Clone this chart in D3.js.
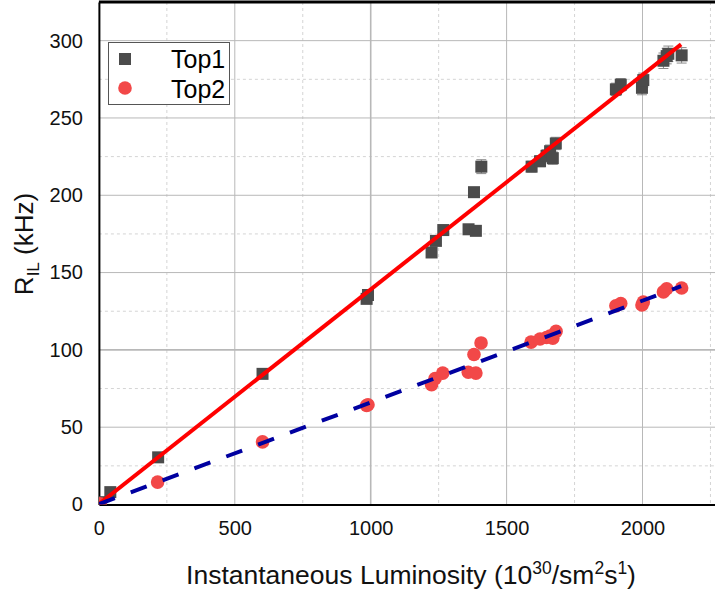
<!DOCTYPE html>
<html><head><meta charset="utf-8">
<script src="https://cdn.jsdelivr.net/npm/d3@7"></script>
<style>
body{margin:0;background:#fff;}
svg{display:block;font-family:"Liberation Sans",Arial,sans-serif;}
</style></head>
<body>
<svg id="c" width="715" height="592"></svg>
<script>
// ---- data ----
const top1X   = [8, 42, 218, 602, 985, 990, 1224, 1240, 1267, 1360, 1387, 1380, 1407, 1592, 1623, 1647, 1660, 1670, 1681, 1902, 1920, 1998, 2003, 2077, 2089, 2095, 2144];
const top1Y   = [1.5, 8, 30.5, 84.5, 133, 135.5, 163, 170.5, 177.5, 178, 177, 202, 218.5, 218.5, 222, 225.5, 228.5, 224, 233.5, 268.5, 271.5, 269.5, 274.5, 287, 290, 291.5, 290.5];
const top1Err = [0.5, 0.5, 1, 1.5, 2.5, 2.5, 3, 3, 3, 3, 3, 3, 4.5, 3.5, 3.5, 4, 4, 4, 4, 4, 4, 4.5, 4.5, 5, 5, 5, 5];
const top2X   = [5, 216, 602, 985, 990, 1224, 1237, 1265, 1359, 1387, 1380, 1406, 1590, 1623, 1647, 1660, 1670, 1682, 1902, 1920, 1998, 2003, 2077, 2089, 2144];
const top2Y   = [0.5, 14.5, 40.5, 64, 64.5, 77.5, 81.5, 85, 85.5, 85, 97, 104.5, 105, 107, 108, 109, 107.5, 112, 128.5, 130, 129, 131, 137.5, 139.5, 140];
const fitX    = [0, 2142];
const fit1Y   = [0.3, 297.6];
const fit2Y   = [0.2, 141.2];
const xTicks  = [0, 500, 1000, 1500, 2000];
const yTicks  = [0, 50, 100, 150, 200, 250, 300];
const seriesNames = ["Top1", "Top2"];

// ---- layout ----
const svg = d3.select("#c");
const L = 98.9, B = 504.5, T = 2;
const x = d3.scaleLinear().domain([0, 2300]).range([L, L + 2300 * 0.2718]);
const y = d3.scaleLinear().domain([0, 325]).range([B, T]);
const R = x(2300);

svg.append("defs").append("clipPath").attr("id","clip")
  .append("rect").attr("x", L).attr("y", T).attr("width", R - L).attr("height", B - T);

// grid
const g = svg.append("g");
d3.range(250, 2300, 500).forEach(v => g.append("line")
  .attr("x1", x(v)).attr("x2", x(v)).attr("y1", T).attr("y2", B)
  .attr("stroke", "#d4d4d4").attr("stroke-dasharray", "3,3"));
d3.range(25, 325, 50).forEach(v => g.append("line")
  .attr("x1", L).attr("x2", R).attr("y1", y(v)).attr("y2", y(v))
  .attr("stroke", "#d4d4d4").attr("stroke-dasharray", "3,3"));
[500, 1000, 1500, 2000].forEach(v => g.append("line")
  .attr("x1", x(v)).attr("x2", x(v)).attr("y1", T).attr("y2", B)
  .attr("stroke", "#b8b8b8").attr("stroke-width", v === 1000 ? 1.6 : 1));
[50, 100, 150, 200, 250, 300].forEach(v => g.append("line")
  .attr("x1", L).attr("x2", R).attr("y1", y(v)).attr("y2", y(v))
  .attr("stroke", "#b8b8b8").attr("stroke-width", v === 100 ? 1.6 : 1));

// axes
const xAxis = svg.append("g").attr("transform", `translate(0,${B})`)
  .call(d3.axisBottom(x).tickValues(xTicks).tickSize(0).tickPadding(16).tickFormat(d3.format("d")));
xAxis.select(".domain").attr("stroke", "#000").attr("stroke-width", 2);
xAxis.selectAll("text").attr("font-size", 20).attr("fill", "#111").attr("font-family", "Liberation Sans, Arial, sans-serif");
const yAxis = svg.append("g").attr("transform", `translate(${L},0)`)
  .call(d3.axisLeft(y).tickValues(yTicks).tickSize(0).tickPadding(16).tickFormat(d3.format("d")));
yAxis.select(".domain").attr("stroke", "#000").attr("stroke-width", 2);
yAxis.selectAll("text").attr("font-size", 20).attr("fill", "#111").attr("font-family", "Liberation Sans, Arial, sans-serif");
svg.append("line").attr("x1", L).attr("x2", 715).attr("y1", 2).attr("y2", 2)
  .attr("stroke", "#000").attr("stroke-width", 3);

// data
const plot = svg.append("g").attr("clip-path", "url(#clip)");
const t1 = top1X.map((v, i) => ({x: v, y: top1Y[i], e: top1Err[i]}));
const t2 = top2X.map((v, i) => ({x: v, y: top2Y[i]}));
const eb = plot.append("g").attr("stroke", "#8a8a8a").attr("stroke-width", 1);
t1.forEach(d => {
  const cx = x(d.x), y1 = y(d.y + d.e), y2 = y(d.y - d.e);
  eb.append("line").attr("x1", cx).attr("x2", cx).attr("y1", y1).attr("y2", y2);
  eb.append("line").attr("x1", cx - 5).attr("x2", cx + 5).attr("y1", y1).attr("y2", y1);
  eb.append("line").attr("x1", cx - 5).attr("x2", cx + 5).attr("y1", y2).attr("y2", y2);
});
plot.append("g").selectAll("rect").data(t1).join("rect")
  .attr("x", d => x(d.x) - 6).attr("y", d => y(d.y) - 6)
  .attr("width", 12).attr("height", 12).attr("fill", "#4b4b4b");
plot.append("g").selectAll("circle").data(t2).join("circle")
  .attr("cx", d => x(d.x)).attr("cy", d => y(d.y)).attr("r", 6.8).attr("fill", "#f24848");

const line = d3.line().x(d => x(d[0])).y(d => y(d[1]));
plot.append("path").attr("d", line(fitX.map((v, i) => [v, fit1Y[i]])))
  .attr("stroke", "#ff0000").attr("stroke-width", 4).attr("fill", "none");
plot.append("path").attr("d", line(fitX.map((v, i) => [v, fit2Y[i]])))
  .attr("stroke", "#0000a0").attr("stroke-width", 4).attr("fill", "none")
  .attr("stroke-dasharray", "17,17");

// legend
const lg = svg.append("g");
lg.append("rect").attr("x", 108.5).attr("y", 42.5).attr("width", 121).attr("height", 62)
  .attr("fill", "#fff").attr("stroke", "#555").attr("stroke-width", 1);
lg.append("rect").attr("x", 119).attr("y", 53).attr("width", 12).attr("height", 12).attr("fill", "#4b4b4b");
lg.append("circle").attr("cx", 125).attr("cy", 88).attr("r", 6.8).attr("fill", "#f24848");
lg.append("text").attr("x", 171).attr("y", 68).attr("font-size", 25).text(seriesNames[0]);
lg.append("text").attr("x", 171).attr("y", 98).attr("font-size", 25).text(seriesNames[1]);

// titles
const xt = svg.append("text").attr("x", 411).attr("y", 584).attr("text-anchor", "middle")
  .attr("font-size", 26.5).attr("fill", "#111");
xt.append("tspan").text("Instantaneous Luminosity (10");
xt.append("tspan").attr("font-size", 17.5).attr("dy", -10).text("30");
xt.append("tspan").attr("dy", 10).text("/sm");
xt.append("tspan").attr("font-size", 17.5).attr("dy", -10).text("2");
xt.append("tspan").attr("dy", 10).text("s");
xt.append("tspan").attr("font-size", 17.5).attr("dy", -10).text("1");
xt.append("tspan").attr("dy", 10).text(")");

const yt = svg.append("text").attr("transform", "translate(33,244) rotate(-90)")
  .attr("text-anchor", "middle").attr("font-size", 26).attr("fill", "#111");
yt.append("tspan").text("R");
yt.append("tspan").attr("font-size", 17).attr("dy", 6).text("IL");
yt.append("tspan").attr("dy", -6).text(" (kHz)");
</script>
</body></html>
